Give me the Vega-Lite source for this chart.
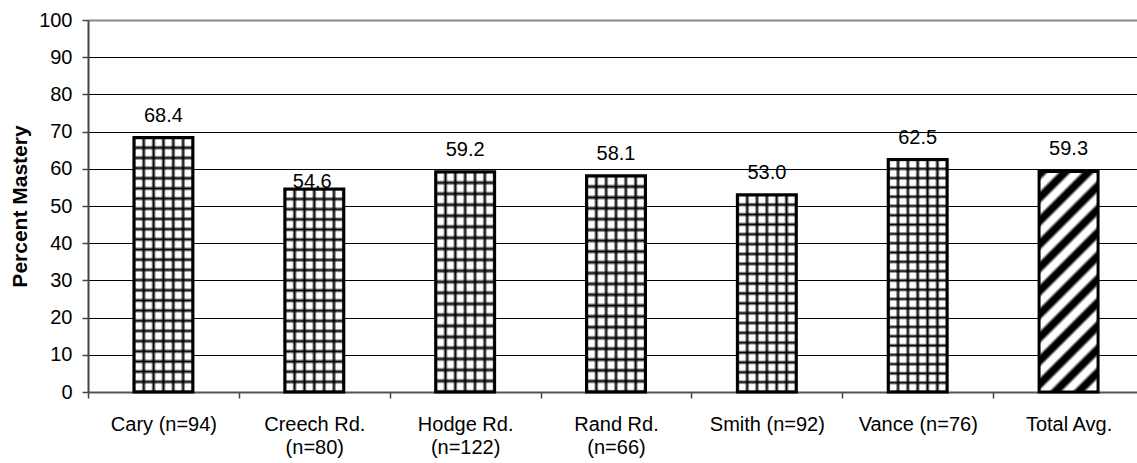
{
  "$schema": "https://vega.github.io/schema/vega-lite/v6.json",
  "width": 1056,
  "height": 372,
  "autosize": "none",
  "padding": {"left": 88, "top": 20, "right": 0, "bottom": 71},
  "background": "white",
  "config": {"view": {"stroke": null}, "font": "Liberation Sans"},
  "data": {"values": [
    {"school": "Cary (n=94)", "value": 68.4},
    {"school": "Creech Rd.|(n=80)", "value": 54.6},
    {"school": "Hodge Rd.|(n=122)", "value": 59.2},
    {"school": "Rand Rd.|(n=66)", "value": 58.1},
    {"school": "Smith (n=92)", "value": 53.0},
    {"school": "Vance (n=76)", "value": 62.5},
    {"school": "Total Avg.", "value": 59.3}
  ]},
  "encoding": {
    "x": {
      "field": "school", "type": "nominal", "sort": null,
      "scale": {"paddingInner": 0, "paddingOuter": 0},
      "axis": {
        "title": null, "labelAngle": 0, "labelExpr": "isString(datum.value) ? split(datum.value, '|') : ''",
        "tickBand": "extent", "tickSize": 6, "tickColor": "#444", "tickWidth": 1.5,
        "domainColor": "#555", "domainWidth": 2, "grid": false,
        "labelFont": "Liberation Sans", "labelFontSize": 20, "labelColor": "black",
        "labelPadding": 16, "labelLineHeight": 23, "labelBaseline": "top"
      }
    },
    "y": {
      "field": "value", "type": "quantitative",
      "scale": {"domain": [0, 100], "nice": false},
      "axis": {
        "values": [0, 10, 20, 30, 40, 50, 60, 70, 80, 90, 100],
        "title": "Percent Mastery", "titleFont": "Liberation Sans", "titleFontSize": 21,
        "titleFontWeight": "bold", "titleColor": "black",
        "titleX": -68, "titleY": 186, "titleAngle": 270, "titleAlign": "center", "titleBaseline": "middle",
        "grid": true,
        "gridColor": {"condition": {"test": "datum.value === 100", "value": "#888"}, "value": "black"},
        "gridWidth": {"condition": {"test": "datum.value === 100", "value": 2}, "value": 1},
        "domainColor": "#444", "domainWidth": 2,
        "tickColor": "#444", "tickSize": 6, "tickWidth": 1.5,
        "labelFont": "Liberation Sans", "labelFontSize": 20, "labelColor": "black", "labelPadding": 10
      }
    }
  },
  "layer": [
    {
      "mark": {"type": "bar", "size": 59},
      "encoding": {
        "fill": {
          "condition": {
            "test": "datum.school === 'Total Avg.'",
            "value": {
              "gradient": "linear", "x1": 0, "y1": 0, "x2": 0.3164, "y2": 1.1828,
              "stops": [
                {"offset": 0, "color": "black"}, {"offset": 0.025, "color": "black"}, {"offset": 0.04, "color": "white"}, {"offset": 0.0683, "color": "white"},
                {"offset": 0.0833, "color": "black"}, {"offset": 0.1083, "color": "black"}, {"offset": 0.1233, "color": "white"}, {"offset": 0.1517, "color": "white"},
                {"offset": 0.1667, "color": "black"}, {"offset": 0.1917, "color": "black"}, {"offset": 0.2067, "color": "white"}, {"offset": 0.235, "color": "white"},
                {"offset": 0.25, "color": "black"}, {"offset": 0.275, "color": "black"}, {"offset": 0.29, "color": "white"}, {"offset": 0.3183, "color": "white"},
                {"offset": 0.3333, "color": "black"}, {"offset": 0.3583, "color": "black"}, {"offset": 0.3733, "color": "white"}, {"offset": 0.4017, "color": "white"},
                {"offset": 0.4167, "color": "black"}, {"offset": 0.4417, "color": "black"}, {"offset": 0.4567, "color": "white"}, {"offset": 0.485, "color": "white"},
                {"offset": 0.5, "color": "black"}, {"offset": 0.525, "color": "black"}, {"offset": 0.54, "color": "white"}, {"offset": 0.5683, "color": "white"},
                {"offset": 0.5833, "color": "black"}, {"offset": 0.6083, "color": "black"}, {"offset": 0.6233, "color": "white"}, {"offset": 0.6517, "color": "white"},
                {"offset": 0.6667, "color": "black"}, {"offset": 0.6917, "color": "black"}, {"offset": 0.7067, "color": "white"}, {"offset": 0.735, "color": "white"},
                {"offset": 0.75, "color": "black"}, {"offset": 0.775, "color": "black"}, {"offset": 0.79, "color": "white"}, {"offset": 0.8183, "color": "white"},
                {"offset": 0.8333, "color": "black"}, {"offset": 0.8583, "color": "black"}, {"offset": 0.8733, "color": "white"}, {"offset": 0.9017, "color": "white"},
                {"offset": 0.9167, "color": "black"}, {"offset": 0.9417, "color": "black"}, {"offset": 0.9567, "color": "white"}, {"offset": 0.985, "color": "white"},
                {"offset": 1, "color": "black"}
              ]
            }
          },
          "value": {
            "gradient": "linear", "x1": 0, "y1": 0, "x2": 1, "y2": 0,
            "stops": [
              {"offset": 0, "color": "black"}, {"offset": 0.0417, "color": "white"}, {"offset": 0.125, "color": "white"},
              {"offset": 0.1667, "color": "black"}, {"offset": 0.2083, "color": "white"}, {"offset": 0.2917, "color": "white"},
              {"offset": 0.3333, "color": "black"}, {"offset": 0.375, "color": "white"}, {"offset": 0.4583, "color": "white"},
              {"offset": 0.5, "color": "black"}, {"offset": 0.5417, "color": "white"}, {"offset": 0.625, "color": "white"},
              {"offset": 0.6667, "color": "black"}, {"offset": 0.7083, "color": "white"}, {"offset": 0.7917, "color": "white"},
              {"offset": 0.8333, "color": "black"}, {"offset": 0.875, "color": "white"}, {"offset": 0.9583, "color": "white"},
              {"offset": 1, "color": "black"}
            ]
          }
        }
      }
    },
    {
      "mark": {"type": "bar", "size": 59, "stroke": "black", "strokeWidth": 3},
      "encoding": {
        "fill": {
          "condition": [
            {"test": "datum.school === 'Total Avg.'", "value": "rgba(0,0,0,0)"},
            {
              "test": "datum.value > 60",
              "value": {
                "gradient": "linear", "x1": 0, "y1": 0, "x2": 0, "y2": 1,
                "stops": [
                  {"offset": 0, "color": "black"}, {"offset": 0.01, "color": "rgba(0,0,0,0)"}, {"offset": 0.03, "color": "rgba(0,0,0,0)"},
                  {"offset": 0.04, "color": "black"}, {"offset": 0.05, "color": "rgba(0,0,0,0)"}, {"offset": 0.07, "color": "rgba(0,0,0,0)"},
                  {"offset": 0.08, "color": "black"}, {"offset": 0.09, "color": "rgba(0,0,0,0)"}, {"offset": 0.11, "color": "rgba(0,0,0,0)"},
                  {"offset": 0.12, "color": "black"}, {"offset": 0.13, "color": "rgba(0,0,0,0)"}, {"offset": 0.15, "color": "rgba(0,0,0,0)"},
                  {"offset": 0.16, "color": "black"}, {"offset": 0.17, "color": "rgba(0,0,0,0)"}, {"offset": 0.19, "color": "rgba(0,0,0,0)"},
                  {"offset": 0.2, "color": "black"}, {"offset": 0.21, "color": "rgba(0,0,0,0)"}, {"offset": 0.23, "color": "rgba(0,0,0,0)"},
                  {"offset": 0.24, "color": "black"}, {"offset": 0.25, "color": "rgba(0,0,0,0)"}, {"offset": 0.27, "color": "rgba(0,0,0,0)"},
                  {"offset": 0.28, "color": "black"}, {"offset": 0.29, "color": "rgba(0,0,0,0)"}, {"offset": 0.31, "color": "rgba(0,0,0,0)"},
                  {"offset": 0.32, "color": "black"}, {"offset": 0.33, "color": "rgba(0,0,0,0)"}, {"offset": 0.35, "color": "rgba(0,0,0,0)"},
                  {"offset": 0.36, "color": "black"}, {"offset": 0.37, "color": "rgba(0,0,0,0)"}, {"offset": 0.39, "color": "rgba(0,0,0,0)"},
                  {"offset": 0.4, "color": "black"}, {"offset": 0.41, "color": "rgba(0,0,0,0)"}, {"offset": 0.43, "color": "rgba(0,0,0,0)"},
                  {"offset": 0.44, "color": "black"}, {"offset": 0.45, "color": "rgba(0,0,0,0)"}, {"offset": 0.47, "color": "rgba(0,0,0,0)"},
                  {"offset": 0.48, "color": "black"}, {"offset": 0.49, "color": "rgba(0,0,0,0)"}, {"offset": 0.51, "color": "rgba(0,0,0,0)"},
                  {"offset": 0.52, "color": "black"}, {"offset": 0.53, "color": "rgba(0,0,0,0)"}, {"offset": 0.55, "color": "rgba(0,0,0,0)"},
                  {"offset": 0.56, "color": "black"}, {"offset": 0.57, "color": "rgba(0,0,0,0)"}, {"offset": 0.59, "color": "rgba(0,0,0,0)"},
                  {"offset": 0.6, "color": "black"}, {"offset": 0.61, "color": "rgba(0,0,0,0)"}, {"offset": 0.63, "color": "rgba(0,0,0,0)"},
                  {"offset": 0.64, "color": "black"}, {"offset": 0.65, "color": "rgba(0,0,0,0)"}, {"offset": 0.67, "color": "rgba(0,0,0,0)"},
                  {"offset": 0.68, "color": "black"}, {"offset": 0.69, "color": "rgba(0,0,0,0)"}, {"offset": 0.71, "color": "rgba(0,0,0,0)"},
                  {"offset": 0.72, "color": "black"}, {"offset": 0.73, "color": "rgba(0,0,0,0)"}, {"offset": 0.75, "color": "rgba(0,0,0,0)"},
                  {"offset": 0.76, "color": "black"}, {"offset": 0.77, "color": "rgba(0,0,0,0)"}, {"offset": 0.79, "color": "rgba(0,0,0,0)"},
                  {"offset": 0.8, "color": "black"}, {"offset": 0.81, "color": "rgba(0,0,0,0)"}, {"offset": 0.83, "color": "rgba(0,0,0,0)"},
                  {"offset": 0.84, "color": "black"}, {"offset": 0.85, "color": "rgba(0,0,0,0)"}, {"offset": 0.87, "color": "rgba(0,0,0,0)"},
                  {"offset": 0.88, "color": "black"}, {"offset": 0.89, "color": "rgba(0,0,0,0)"}, {"offset": 0.91, "color": "rgba(0,0,0,0)"},
                  {"offset": 0.92, "color": "black"}, {"offset": 0.93, "color": "rgba(0,0,0,0)"}, {"offset": 0.95, "color": "rgba(0,0,0,0)"},
                  {"offset": 0.96, "color": "black"}, {"offset": 0.97, "color": "rgba(0,0,0,0)"}, {"offset": 0.99, "color": "rgba(0,0,0,0)"},
                  {"offset": 1, "color": "black"}
                ]
              }
            }
          ],
          "value": {
            "gradient": "linear", "x1": 0, "y1": 0, "x2": 0, "y2": 1,
            "stops": [
              {"offset": 0, "color": "black"}, {"offset": 0.0125, "color": "rgba(0,0,0,0)"}, {"offset": 0.0375, "color": "rgba(0,0,0,0)"},
              {"offset": 0.05, "color": "black"}, {"offset": 0.0625, "color": "rgba(0,0,0,0)"}, {"offset": 0.0875, "color": "rgba(0,0,0,0)"},
              {"offset": 0.1, "color": "black"}, {"offset": 0.1125, "color": "rgba(0,0,0,0)"}, {"offset": 0.1375, "color": "rgba(0,0,0,0)"},
              {"offset": 0.15, "color": "black"}, {"offset": 0.1625, "color": "rgba(0,0,0,0)"}, {"offset": 0.1875, "color": "rgba(0,0,0,0)"},
              {"offset": 0.2, "color": "black"}, {"offset": 0.2125, "color": "rgba(0,0,0,0)"}, {"offset": 0.2375, "color": "rgba(0,0,0,0)"},
              {"offset": 0.25, "color": "black"}, {"offset": 0.2625, "color": "rgba(0,0,0,0)"}, {"offset": 0.2875, "color": "rgba(0,0,0,0)"},
              {"offset": 0.3, "color": "black"}, {"offset": 0.3125, "color": "rgba(0,0,0,0)"}, {"offset": 0.3375, "color": "rgba(0,0,0,0)"},
              {"offset": 0.35, "color": "black"}, {"offset": 0.3625, "color": "rgba(0,0,0,0)"}, {"offset": 0.3875, "color": "rgba(0,0,0,0)"},
              {"offset": 0.4, "color": "black"}, {"offset": 0.4125, "color": "rgba(0,0,0,0)"}, {"offset": 0.4375, "color": "rgba(0,0,0,0)"},
              {"offset": 0.45, "color": "black"}, {"offset": 0.4625, "color": "rgba(0,0,0,0)"}, {"offset": 0.4875, "color": "rgba(0,0,0,0)"},
              {"offset": 0.5, "color": "black"}, {"offset": 0.5125, "color": "rgba(0,0,0,0)"}, {"offset": 0.5375, "color": "rgba(0,0,0,0)"},
              {"offset": 0.55, "color": "black"}, {"offset": 0.5625, "color": "rgba(0,0,0,0)"}, {"offset": 0.5875, "color": "rgba(0,0,0,0)"},
              {"offset": 0.6, "color": "black"}, {"offset": 0.6125, "color": "rgba(0,0,0,0)"}, {"offset": 0.6375, "color": "rgba(0,0,0,0)"},
              {"offset": 0.65, "color": "black"}, {"offset": 0.6625, "color": "rgba(0,0,0,0)"}, {"offset": 0.6875, "color": "rgba(0,0,0,0)"},
              {"offset": 0.7, "color": "black"}, {"offset": 0.7125, "color": "rgba(0,0,0,0)"}, {"offset": 0.7375, "color": "rgba(0,0,0,0)"},
              {"offset": 0.75, "color": "black"}, {"offset": 0.7625, "color": "rgba(0,0,0,0)"}, {"offset": 0.7875, "color": "rgba(0,0,0,0)"},
              {"offset": 0.8, "color": "black"}, {"offset": 0.8125, "color": "rgba(0,0,0,0)"}, {"offset": 0.8375, "color": "rgba(0,0,0,0)"},
              {"offset": 0.85, "color": "black"}, {"offset": 0.8625, "color": "rgba(0,0,0,0)"}, {"offset": 0.8875, "color": "rgba(0,0,0,0)"},
              {"offset": 0.9, "color": "black"}, {"offset": 0.9125, "color": "rgba(0,0,0,0)"}, {"offset": 0.9375, "color": "rgba(0,0,0,0)"},
              {"offset": 0.95, "color": "black"}, {"offset": 0.9625, "color": "rgba(0,0,0,0)"}, {"offset": 0.9875, "color": "rgba(0,0,0,0)"},
              {"offset": 1, "color": "black"}
            ]
          }
        }
      }
    },
    {
      "transform": [{"filter": "datum.school !== 'Creech Rd.|(n=80)'"}],
      "mark": {"type": "text", "baseline": "alphabetic", "dy": -16, "fontSize": 20, "font": "Liberation Sans", "fill": "black"},
      "encoding": {"text": {"field": "value", "type": "quantitative", "format": ".1f"}}
    },
    {
      "transform": [{"filter": "datum.school === 'Creech Rd.|(n=80)'"}],
      "mark": {"type": "text", "baseline": "alphabetic", "dy": -1, "dx": -2, "fontSize": 20, "font": "Liberation Sans", "fill": "black"},
      "encoding": {"text": {"field": "value", "type": "quantitative", "format": ".1f"}}
    }
  ]
}
